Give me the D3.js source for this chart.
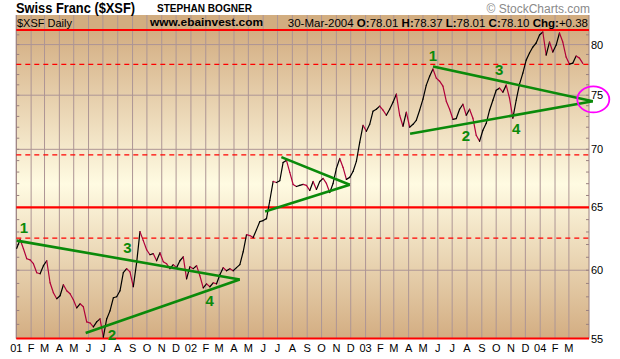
<!DOCTYPE html>
<html><head><meta charset="utf-8">
<script src="https://cdn.jsdelivr.net/npm/d3@7"></script>
<style>body{margin:0;background:#fff} svg{display:block}</style>
</head><body>
<svg id="c" width="620" height="359"></svg>
<script>
// ---------- data ----------
const firstDate = "2001-01-02";
const lastDate = "2004-03-30";
const closes = [
61.70,62.40,61.67,60.89,60.80,60.50,59.81,59.73,60.35,60.73,
59.05,58.30,57.86,58.08,58.90,58.45,58.23,57.79,57.19,57.49,
57.27,56.18,56.10,55.82,56.18,56.39,55.10,56.39,56.97,57.93,
58.01,58.45,59.81,60.12,59.88,58.75,60.58,63.03,62.31,61.59,
61.20,61.28,60.73,61.35,60.66,60.50,60.12,60.43,60.20,60.73,
61.04,59.35,60.27,60.12,60.35,59.58,58.67,58.97,58.75,59.05,
58.97,59.66,60.20,59.96,60.12,59.96,60.20,60.43,61.43,62.79,
62.71,62.55,63.19,63.84,63.92,64.08,65.58,67.19,67.10,67.25,
68.84,69.02,67.97,66.94,66.76,66.85,66.94,66.85,66.42,67.19,
66.51,67.19,67.45,67.02,66.25,67.02,68.32,69.19,68.40,67.37,
67.54,68.05,68.93,70.63,72.18,71.63,72.27,73.49,73.67,73.96,
73.58,73.11,73.67,74.33,75.10,73.11,72.09,73.39,72.00,72.27,
72.64,73.58,74.62,75.97,76.84,77.54,76.65,76.35,75.87,74.43,
73.67,72.73,72.80,73.67,74.14,73.11,73.67,72.83,71.26,70.72,
71.72,72.36,73.58,74.52,75.48,75.68,75.29,75.97,74.71,72.83,
74.52,76.07,77.14,78.43,79.14,79.75,80.16,80.98,81.29,78.94,
80.26,79.24,79.95,81.19,80.26,78.74,78.03,78.13,78.84,78.63,
78.10];
const yTickValues = [55, 60, 65, 70, 75, 80];
const redSolidLevels = [55, 65, 81.5];
const redDashedLevels = [62.5, 69.5, 78];
const trendUpper1 = [["2001-01-02", 62.31], ["2002-04-13", 59.30]];
const trendLower1 = [["2001-05-26", 55.39], ["2002-04-13", 59.30]];
const trendUpper2 = [["2002-07-09", 69.31], ["2002-11-29", 66.91]];
const trendLower2 = [["2002-06-05", 64.66], ["2002-11-29", 66.91]];
const trendUpper3 = [["2003-05-22", 77.80], ["2004-04-20", 74.43]];
const trendLower3 = [["2003-04-04", 71.40], ["2004-04-20", 74.43]];
const waveLabels = [
  ["1", "2001-01-17", 63.35], ["2", "2001-07-20", 55.30],
  ["3", "2001-08-21", 61.79], ["4", "2002-02-09", 57.76],
  ["1", "2003-05-22", 78.94], ["2", "2003-07-30", 71.26],
  ["3", "2003-10-07", 77.54], ["4", "2003-11-12", 71.90]
];
const circleMark = ["2004-04-21", 74.6];
const titleText = "Swiss Franc ($XSF)";
const authorText = "STEPHAN BOGNER";
const creditText = "\u00A9 StockCharts.com";
const symbolText = "$XSF Daily";
const siteText = "www.ebainvest.com";
const quoteParts = [["30-Mar-2004 ", false], ["O:", true], ["78.01 ", false], ["H:", true], ["78.37 ", false],
  ["L:", true], ["78.01 ", false], ["C:", true], ["78.10 ", false], ["Chg:", true], ["+0.38", false]];

// ---------- layout ----------
const L = 16.3, R = 589, T = 30, B = 338.5;
const parse = d3.timeParse("%Y-%m-%d");
const x = d3.scaleTime().domain([new Date(2001, 0, 1), new Date(2004, 3, 12)]).range([L, R]);
const y = d3.scaleLog().domain([55, 81.5]).range([B, T]);
const t0 = +parse(firstDate), t1 = +parse(lastDate);
const idxToTime = d3.scaleLinear().domain([0, closes.length - 1]).range([t0, t1]);
const series = closes.map((v, i) => ({ date: new Date(idxToTime(i)), value: v }));

const svg = d3.select("#c");
const font = "'Liberation Sans', Arial, sans-serif";
const gridColor = "#ad9595";

const defs = svg.append("defs");
const g = defs.append("linearGradient").attr("id", "bg").attr("x1", 0).attr("y1", 0).attr("x2", 0).attr("y2", 1);
g.append("stop").attr("offset", "0%").attr("stop-color", "#d3ad82");
g.append("stop").attr("offset", "50%").attr("stop-color", "#fffbe2");
g.append("stop").attr("offset", "100%").attr("stop-color", "#d3ad82");

// header band
svg.append("rect").attr("x", L).attr("y", 15).attr("width", R - L).attr("height", T - 15).attr("fill", "#d2ad80");
// plot background
svg.append("rect").attr("x", L).attr("y", T).attr("width", R - L).attr("height", B - T).attr("fill", "url(#bg)");

// vertical month grid
const months = d3.timeMonth.range(new Date(2001, 0, 1), new Date(2004, 3, 1));
svg.append("g").selectAll("line").data(months).join("line")
  .attr("x1", d => x(d)).attr("x2", d => x(d)).attr("y1", 15).attr("y2", B)
  .attr("stroke", gridColor).attr("stroke-width", 1);
// horizontal grid
svg.append("g").selectAll("line").data(yTickValues).join("line")
  .attr("x1", L).attr("x2", R).attr("y1", d => y(d)).attr("y2", d => y(d))
  .attr("stroke", gridColor).attr("stroke-width", 1);

// axes borders + minor ticks
svg.append("line").attr("x1", L).attr("x2", L).attr("y1", 15).attr("y2", B).attr("stroke", "#9a8080");
svg.append("line").attr("x1", R).attr("x2", R).attr("y1", 15).attr("y2", B).attr("stroke", "#9a8080");
const minor = d3.range(55, 82, 1);
svg.append("g").selectAll("line").data(minor).join("line")
  .attr("x1", L).attr("x2", L + 3).attr("y1", d => y(d)).attr("y2", d => y(d)).attr("stroke", "#9a8080");
svg.append("g").selectAll("line").data(minor).join("line")
  .attr("x1", R - 3).attr("x2", R).attr("y1", d => y(d)).attr("y2", d => y(d)).attr("stroke", "#9a8080");

// red levels
svg.append("g").selectAll("line").data(redDashedLevels).join("line")
  .attr("x1", L).attr("x2", R).attr("y1", d => y(d)).attr("y2", d => y(d))
  .attr("stroke", "#ff0000").attr("stroke-width", 1.2).attr("stroke-dasharray", "5,4");
svg.append("g").selectAll("line").data(redSolidLevels).join("line")
  .attr("x1", L).attr("x2", R).attr("y1", d => y(d)).attr("y2", d => y(d))
  .attr("stroke", "#ff0000").attr("stroke-width", 2.2);

// price line colour-coded
const segs = series.slice(1).map((d, i) => [series[i], d]);
const line = d3.line().x(d => x(d.date)).y(d => y(d.value));
svg.append("g").selectAll("path").data(segs).join("path")
  .attr("d", line).attr("fill", "none")
  .attr("stroke", d => d[1].value >= d[0].value ? "#000000" : "#b0003a")
  .attr("stroke-width", 1.2).attr("stroke-linecap", "round");

// trend lines
const tl = d3.line().x(d => x(parse(d[0]))).y(d => y(d[1]));
svg.append("g").selectAll("path")
  .data([trendUpper1, trendLower1, trendUpper2, trendLower2, trendUpper3, trendLower3]).join("path")
  .attr("d", tl).attr("fill", "none").attr("stroke", "#0a8a0a").attr("stroke-width", 2.6);

// wave labels
svg.append("g").selectAll("text").data(waveLabels).join("text")
  .attr("x", d => x(parse(d[1]))).attr("y", d => y(d[2]))
  .attr("text-anchor", "middle").attr("dominant-baseline", "central")
  .attr("font-family", font).attr("font-weight", "bold").attr("font-size", 15)
  .attr("fill", "#0a8a0a").text(d => d[0]);

// magenta circle
svg.append("ellipse").attr("cx", x(parse(circleMark[0]))).attr("cy", y(circleMark[1]))
  .attr("rx", 16).attr("ry", 13).attr("fill", "none").attr("stroke", "#ff00ff").attr("stroke-width", 1.8);

// y labels
svg.append("g").selectAll("text").data(yTickValues).join("text")
  .attr("x", R + 2).attr("y", d => y(d) + 4)
  .attr("font-family", font).attr("font-size", 11).attr("fill", "#000").text(d => d);

// x labels
const fmtM = d3.timeFormat("%b"), fmtY = d3.timeFormat("%y");
svg.append("g").selectAll("text").data(months).join("text")
  .attr("x", d => x(d)).attr("y", 352).attr("text-anchor", "middle")
  .attr("font-family", font).attr("font-size", 11).attr("fill", "#000")
  .text(d => d.getMonth() === 0 ? fmtY(d) : fmtM(d)[0]);

// header texts
svg.append("text").attr("x", 16).attr("y", 13).attr("font-family", font).attr("font-weight", "bold")
  .attr("font-size", 14).attr("textLength", 119).attr("lengthAdjust", "spacingAndGlyphs").text(titleText);
svg.append("text").attr("x", 157).attr("y", 12).attr("font-family", font).attr("font-weight", "bold")
  .attr("font-size", 11).attr("textLength", 95).attr("lengthAdjust", "spacingAndGlyphs").text(authorText);
svg.append("text").attr("x", 590).attr("y", 13).attr("text-anchor", "end").attr("font-family", font)
  .attr("font-size", 12).attr("fill", "#8a8a8a").text(creditText);
svg.append("text").attr("x", 17).attr("y", 27).attr("font-family", font)
  .attr("font-size", 11).attr("textLength", 55).attr("lengthAdjust", "spacingAndGlyphs").text(symbolText);
svg.append("text").attr("x", 150).attr("y", 26).attr("font-family", font).attr("font-weight", "bold")
  .attr("font-size", 11.5).attr("textLength", 113).attr("lengthAdjust", "spacingAndGlyphs").text(siteText);
const q = svg.append("text").attr("x", 588).attr("y", 27).attr("text-anchor", "end")
  .attr("font-family", font).attr("font-size", 11.5);
q.selectAll("tspan").data(quoteParts).join("tspan")
  .attr("font-weight", d => d[1] ? "bold" : "normal").text(d => d[0]);
</script>
</body></html>
